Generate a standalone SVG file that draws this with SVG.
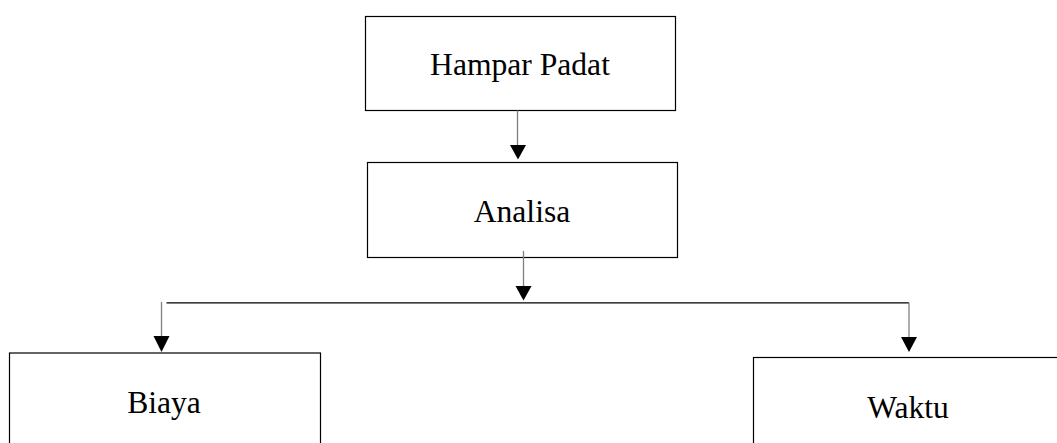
<svg xmlns="http://www.w3.org/2000/svg" width="1057" height="443" viewBox="0 0 1057 443">
<style>
.box{fill:#fff;stroke:#000;stroke-width:1.2}
.lbl{font-family:"Liberation Serif","Times New Roman",serif;font-size:31.6px;fill:#000;text-anchor:middle}
.arr{stroke:#808080;stroke-width:1.3;fill:none}
.hl{stroke:#000;stroke-width:1.2;fill:none}
.head{fill:#000}
</style>
<rect width="1057" height="443" fill="#fff"/>
<g id="node-hampar">
<rect class="box" x="365.5" y="16.5" width="310" height="94"/>
<text class="lbl" x="520" y="75">Hampar Padat</text>
</g>
<g id="node-analisa">
<rect class="box" x="367.5" y="162.5" width="310" height="95"/>
<text class="lbl" x="522" y="222">Analisa</text>
</g>
<g id="node-biaya">
<rect class="box" x="9.5" y="353" width="311" height="100"/>
<text class="lbl" x="164" y="413">Biaya</text>
</g>
<g id="node-waktu">
<rect class="box" x="753.5" y="357.5" width="320" height="100"/>
<text class="lbl" x="908" y="418">Waktu</text>
</g>
<g id="connectors">
<line class="arr" x1="517.5" y1="110.5" x2="517.5" y2="146"/>
<polygon class="head" points="510,145 526,145 518,159.5"/>
<line class="arr" x1="523.5" y1="251" x2="523.5" y2="287"/>
<polygon class="head" points="515.5,286 531.5,286 523.5,300.5"/>
<line class="hl" x1="166.5" y1="302.8" x2="909" y2="302.8"/>
<line class="arr" x1="161.5" y1="302" x2="161.5" y2="337"/>
<polygon class="head" points="153.5,336 169.5,336 161.5,352"/>
<line class="arr" x1="909" y1="302.8" x2="909" y2="338"/>
<polygon class="head" points="901,337 917,337 909,352"/>
</g>
</svg>
